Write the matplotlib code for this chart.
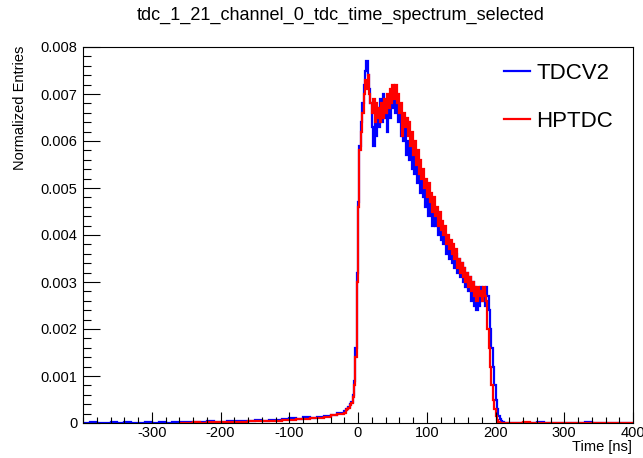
import numpy as np
import matplotlib
matplotlib.use("Agg")
from matplotlib import pyplot as plt
from matplotlib.ticker import MultipleLocator

plt.rcParams['font.family'] = ['Liberation Sans', 'DejaVu Sans']
plt.rcParams['axes.unicode_minus'] = False

# left tail, 10 ns bins
tdcv2_tail_left = [0, 0.00002, 0, 0.00001,
                   0.00002, 0, 0.00003, 0.00001, 0, 0.00002,
                   0.00001, 0.00002, 0, 0.00003, 0.00002,
                   0.00002, 0.00003, 0.00002, 0.00004, 0.00003,
                   0.00003, 0.00005, 0.00004, 0.00004, 0.00005,
                   0.00006, 0.00005, 0.00007, 0.00006, 0.00008,
                   0.0001, 0.00009, 0.00012, 0.00011, 0.00013,
                   0.00015, 0.00018, 0.00021]
hptdc_tail_left = [0, 0.00001, 0.00002, 0.00001, 0.00002, 0.00002,
                   0.00003, 0.00002, 0.00003, 0.00003, 0.00004,
                   0.00004, 0.00004, 0.00005, 0.00005, 0.00006,
                   0.00007, 0.00008, 0.00008, 0.0001, 0.00011,
                   0.00013, 0.00016, 0.00019]

# main region, 2 ns bins from -20 to 220 ns
tdcv2_main = [0.00025, 0.0003, 0.0003, 0.00035, 0.0004, 0.00045, 0.0006, 0.0009, 0.0016, 0.0032,
              0.0047, 0.0059, 0.0064, 0.0068, 0.0072, 0.0075, 0.0077, 0.0074, 0.0071, 0.0068,
              0.0063, 0.0059, 0.0066, 0.0061, 0.0067, 0.0063, 0.0069, 0.0064, 0.0070, 0.0065,
              0.0068, 0.0062, 0.0069, 0.0065, 0.0070, 0.0067, 0.0071, 0.0066, 0.0069, 0.0064,
              0.0067, 0.0061, 0.0064, 0.0060, 0.0063, 0.0057, 0.0060, 0.0056, 0.0059, 0.0054,
              0.0057, 0.0053, 0.0055, 0.0051, 0.0054, 0.0049, 0.0052, 0.0048, 0.0050, 0.0046,
              0.0049, 0.0044, 0.0047, 0.0045, 0.0042, 0.0046, 0.0042, 0.0044, 0.0040, 0.0043,
              0.0039, 0.0042, 0.0038, 0.0040, 0.0036, 0.0039, 0.0035, 0.0038, 0.0034, 0.0037,
              0.0033, 0.0036, 0.0032, 0.0035, 0.0031, 0.0034, 0.0030, 0.0033, 0.0029, 0.0032,
              0.0028, 0.0031, 0.0026, 0.0030, 0.0025, 0.0029, 0.0024, 0.0028, 0.0025, 0.0029,
              0.0026, 0.0028, 0.0025, 0.0029, 0.0027, 0.0024, 0.0020, 0.0016, 0.0012, 0.0008,
              0.0005, 0.0003, 0.00015, 0.00008, 0.00004, 0.00002, 0.00001, 0, 0.00001, 0]
hptdc_main = [0.00022, 0.00028, 0.0003, 0.00032, 0.00038, 0.00042, 0.00055, 0.0008, 0.0014, 0.0030,
              0.0046, 0.0058, 0.0062, 0.0066, 0.0070, 0.0073, 0.0071, 0.0074, 0.0070, 0.0068,
              0.0066, 0.0069, 0.0064, 0.0068, 0.0065, 0.0067, 0.0064, 0.0068, 0.0065, 0.0069,
              0.0066, 0.0070, 0.0067, 0.0071, 0.0068, 0.0072, 0.0069, 0.0072, 0.0068, 0.0070,
              0.0066, 0.0068, 0.0061, 0.0066, 0.0063, 0.0065, 0.0061, 0.0064, 0.0059, 0.0062,
              0.0057, 0.0060, 0.0055, 0.0058, 0.0053, 0.0056, 0.0052, 0.0054, 0.0050, 0.0052,
              0.0048, 0.0051, 0.0047, 0.0049, 0.0045, 0.0048, 0.0044, 0.0046, 0.0042, 0.0045,
              0.0041, 0.0043, 0.0040, 0.0042, 0.0038, 0.0040, 0.0037, 0.0039, 0.0036, 0.0038,
              0.0035, 0.0037, 0.0033, 0.0035, 0.0032, 0.0034, 0.0031, 0.0033, 0.0030, 0.0032,
              0.0029, 0.0031, 0.0028, 0.0030, 0.0027, 0.0029, 0.0026, 0.0029, 0.0027, 0.0028,
              0.0026, 0.0029, 0.0027, 0.0026, 0.0020, 0.0016, 0.0012, 0.0008, 0.0005, 0.0003,
              0.00015, 0.00006, 0.00002, 0, 0, 0, 0, 0, 0, 0]

# right tail, 10 ns bins from 220 to 400 ns
tdcv2_tail_right = [0, 0.00001, 0, 0, 0.00002, 0, 0, 0, 0.00001,
                    0, 0, 0.00002, 0, 0, 0.00001, 0, 0, 0]
hptdc_tail_right = [0, 0, 0.00002, 0, 0, 0, 0, 0, 0,
                    0, 0, 0, 0, 0, 0, 0, 0, 0]

labels = ["TDCV2", "HPTDC"]
xticks = [-300, -200, -100, 0, 100, 200, 300, 400]
yticks = [0, 0.001, 0.002, 0.003, 0.004, 0.005, 0.006, 0.007, 0.008]
ytick_labels = ["0", "0.001", "0.002", "0.003", "0.004", "0.005", "0.006", "0.007", "0.008"]


def build(tail_left, start, main, tail_right):
    e1 = np.arange(start, -20 + 1, 10)
    e2 = np.arange(-20, 220 + 1, 2)
    e3 = np.arange(220, 400 + 1, 10)
    assert len(e1) - 1 == len(tail_left)
    assert len(e2) - 1 == len(main)
    assert len(e3) - 1 == len(tail_right)
    edges = np.concatenate([e1, e2[1:], e3[1:]])
    vals = np.array(tail_left + main + tail_right)
    return vals, edges


fig = plt.figure(figsize=(6.43, 4.58), dpi=100)
ax = fig.add_axes([83 / 643, 1 - 423 / 458, 550 / 643, 376 / 458])

vb, eb = build(tdcv2_tail_left, -400, tdcv2_main, tdcv2_tail_right)
vr, er = build(hptdc_tail_left, -260, hptdc_main, hptdc_tail_right)
ax.stairs(vb, eb, color=(0, 0, 1), lw=1.6, label=labels[0], baseline=None)
ax.stairs(vr, er, color=(1, 0, 0), lw=1.6, label=labels[1], baseline=None)

ax.set_xlim(-400, 400)
ax.set_ylim(0, 0.008)
ax.set_xticks(xticks)
ax.set_xticklabels([str(t) for t in xticks])
ax.set_yticks(yticks)
ax.set_yticklabels(ytick_labels)
ax.xaxis.set_minor_locator(MultipleLocator(20))
ax.yaxis.set_minor_locator(MultipleLocator(0.0002))
ax.tick_params(axis='x', which='major', direction='in', length=8, width=0.8, labelsize=10.5, pad=2)
ax.tick_params(axis='x', which='minor', direction='in', length=4, width=0.8)
ax.tick_params(axis='y', which='major', direction='in', length=12, width=0.8, labelsize=10.5, pad=4)
ax.tick_params(axis='y', which='minor', direction='in', length=6, width=0.8)
for s in ax.spines.values():
    s.set_linewidth(0.8)

fig.text(341 / 643, 1 - 15 / 458, "tdc_1_21_channel_0_tdc_time_spectrum_selected",
         ha='center', va='center', fontsize=13)
fig.text(20 / 643, 1 - 46 / 458, "Normalized Entries", rotation=90,
         ha='center', va='top', fontsize=10.5)
fig.text(632 / 643, 1 - 447 / 458, "Time [ns]", ha='right', va='center', fontsize=10.5)

ax.legend(loc='upper left', bbox_to_anchor=(493 / 643, 1 - 52 / 458),
          bbox_transform=fig.transFigure, frameon=False, fontsize=16,
          handlelength=1.15, handletextpad=0.3, labelspacing=1.2, borderpad=0)

plt.savefig("out.png", dpi=100)
